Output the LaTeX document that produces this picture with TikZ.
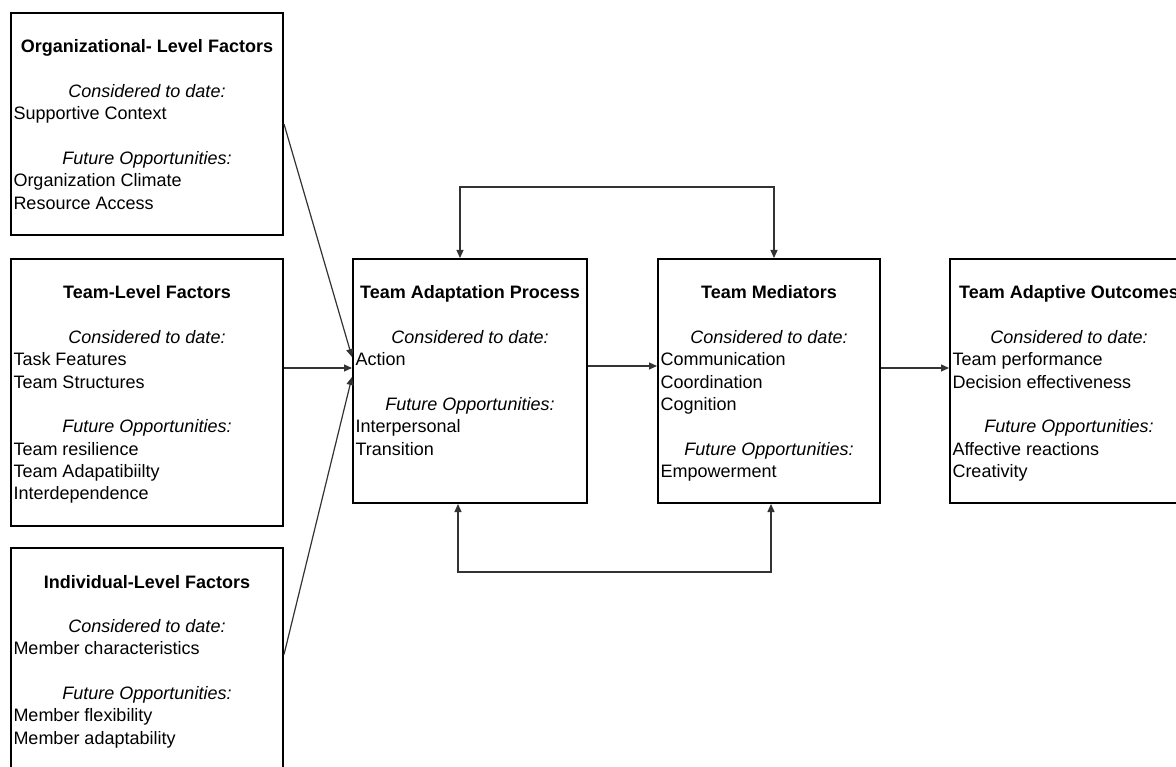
\documentclass[tikz,border=0pt]{standalone}
\usepackage{fontspec}
\setmainfont{Liberation Sans}
\usetikzlibrary{arrows.meta}

% one line of a box, centred or flush left
\newcommand\cenline[1]{\makebox[\linewidth][c]{#1}\par}
\newcommand\lefline[1]{\makebox[\linewidth][l]{#1}\par}
\newcommand\gapline{\mbox{}\par}
\newcommand\titleline[1]{\makebox[\linewidth][c]{\rule{0pt}{40pt}\textbf{#1}}\par}
% fixed-size box contents: width, height, lines
\newcommand\boxbody[3]{\parbox[t][#2][t]{#1}{\fontsize{18}{22.3}\selectfont #3}}

\begin{document}
\begin{tikzpicture}[x=1pt,y=-1pt,
  factorbox/.style={draw=black, line width=2pt, inner xsep=2.5pt, inner ysep=0pt,
    anchor=north west, fill=white},
  link/.style={draw=black!80, line width=1.2pt,
    -{Triangle[length=8pt,width=7pt]}},
  twoway/.style={draw=black!80, line width=1.2pt,
    {Triangle[length=8pt,width=7pt]}-{Triangle[length=8pt,width=7pt]}}]

\clip (0,0) rectangle (1176,767);
\fill[white] (0,0) rectangle (1176,767);

% antecedent factors
\node[factorbox] (org) at (10,12) {\boxbody{267pt}{222pt}{%
  \titleline{Organizational- Level Factors}
  \gapline
  \cenline{\textit{Considered to date:}}
  \lefline{Supportive Context}
  \gapline
  \cenline{\textit{Future Opportunities:}}
  \lefline{Organization Climate}
  \lefline{Resource Access}}};

\node[factorbox] (team) at (10,258) {\boxbody{267pt}{267pt}{%
  \titleline{Team-Level Factors}
  \gapline
  \cenline{\textit{Considered to date:}}
  \lefline{Task Features}
  \lefline{Team Structures}
  \gapline
  \cenline{\textit{Future Opportunities:}}
  \lefline{Team resilience}
  \lefline{Team Adapatibiilty}
  \lefline{Interdependence}}};

\node[factorbox] (ind) at (10,547) {\boxbody{267pt}{225pt}{%
  \titleline{Individual-Level Factors}
  \gapline
  \cenline{\textit{Considered to date:}}
  \lefline{Member characteristics}
  \gapline
  \cenline{\textit{Future Opportunities:}}
  \lefline{Member flexibility}
  \lefline{Member adaptability}}};

% process, mediators, outcomes
\node[factorbox] (tap) at (352,258) {\boxbody{229pt}{244pt}{%
  \titleline{Team Adaptation Process}
  \gapline
  \cenline{\textit{Considered to date:}}
  \lefline{Action}
  \gapline
  \cenline{\textit{Future Opportunities:}}
  \lefline{Interpersonal}
  \lefline{Transition}}};

\node[factorbox] (med) at (657,258) {\boxbody{217pt}{244pt}{%
  \titleline{Team Mediators}
  \gapline
  \cenline{\textit{Considered to date:}}
  \lefline{Communication}
  \lefline{Coordination}
  \lefline{Cognition}
  \gapline
  \cenline{\textit{Future Opportunities:}}
  \lefline{Empowerment}}};

\node[factorbox] (out) at (949,258) {\boxbody{233pt}{244pt}{%
  \titleline{Team Adaptive Outcomes}
  \gapline
  \cenline{\textit{Considered to date:}}
  \lefline{Team performance}
  \lefline{Decision effectiveness}
  \gapline
  \cenline{\textit{Future Opportunities:}}
  \lefline{Affective reactions}
  \lefline{Creativity}}};

% factors feeding the adaptation process
\draw[link] (org.east) -- ([yshift=24pt]tap.west);
\draw[link] ([yshift=13pt]team.east |- tap.west) -- ([yshift=13pt]tap.west);
\draw[link] ([yshift=6pt]ind.east) -- ([yshift=4pt]tap.west);

% main chain
\draw[link] ([yshift=15pt]tap.east) -- ([yshift=15pt]med.west);
\draw[link] ([yshift=13pt]med.east) -- ([yshift=13pt]out.west);

% feedback loops between process and mediators
\draw[twoway] ([xshift=-10pt]tap.north) -- ++(0,-71) -| ([xshift=5pt]med.north);
\draw[twoway] ([xshift=-12pt]tap.south) -- ++(0,68) -| ([xshift=2pt]med.south);

\end{tikzpicture}
\end{document}
